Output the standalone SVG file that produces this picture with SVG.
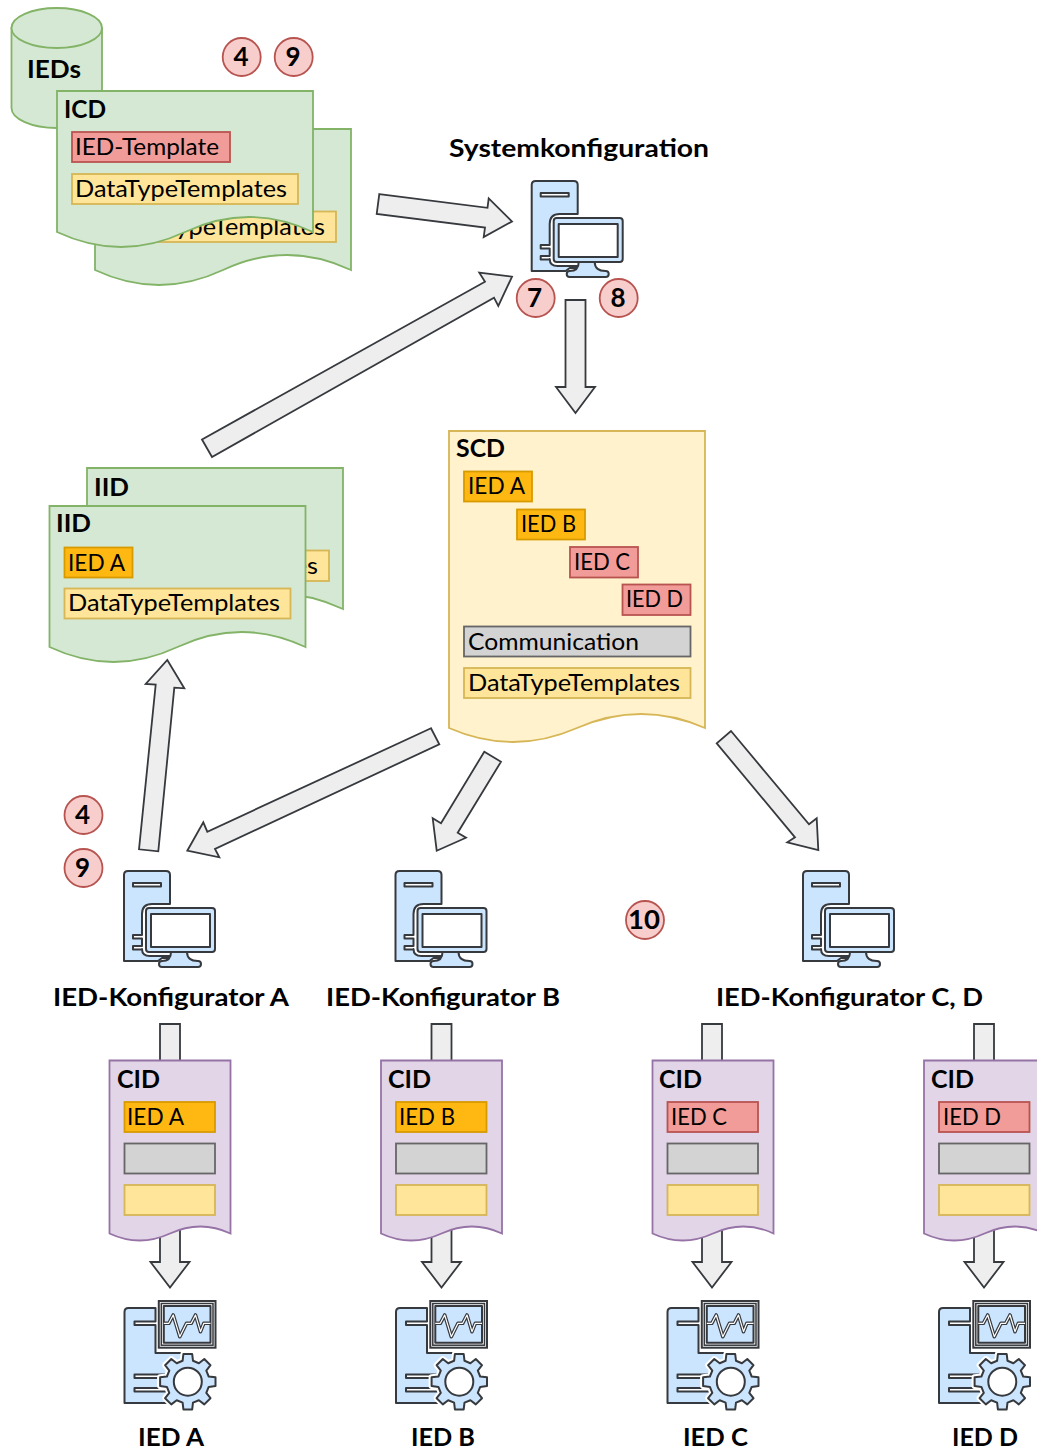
<svg xmlns="http://www.w3.org/2000/svg" xmlns:xlink="http://www.w3.org/1999/xlink" width="1037" height="1447" viewBox="0 0 1037 1447">
<style>
text{font-family:Lato,"Liberation Sans",sans-serif;font-size:24px;fill:#000}
.b{font-weight:700}
.d{font-weight:700;font-size:26px;text-anchor:middle}
.ar{fill:#eeeeee;stroke:#36393d;stroke-width:1.8;stroke-linejoin:miter}
.gn{fill:#d5e8d4;stroke:#82b366;stroke-width:1.8}
.yl{fill:#fff2cc;stroke:#d6b656;stroke-width:1.8}
.pu{fill:#e1d5e7;stroke:#9673a6;stroke-width:1.8}
.by{fill:#ffe599;stroke:#d6b656;stroke-width:1.8}
.bo{fill:#ffb812;stroke:#d79b00;stroke-width:1.8}
.br{fill:#f19c99;stroke:#b85450;stroke-width:1.8}
.bg{fill:#d3d3d3;stroke:#666666;stroke-width:1.8}
.ci{fill:#f8cecc;stroke:#b85450;stroke-width:1.8}
.ic{fill:#cce5ff;stroke:#36393d;stroke-width:2;stroke-linejoin:round}
.wh{fill:#ffffff;stroke:#36393d;stroke-width:2;stroke-linejoin:round}
.ha{fill:#ffffff;stroke:#ffffff;stroke-width:6;stroke-linejoin:round}
</style>
<defs>
<path id="docL" d="M0 0H256V141Q192 111 128 141Q64 171 0 141Z"/>
<path id="docS" d="M0 0H121V173Q91 159 60.500 173Q30 187 0 173Z"/>
<path id="gear" d="M-5.200-20.900L-4.400-27.700L4.400-27.700L5.200-20.900L11.100-18.500L16.500-22.700L22.700-16.500L18.500-11.100L20.900-5.200L27.700-4.400L27.700 4.400L20.900 5.200L18.500 11.100L22.700 16.500L16.500 22.700L11.100 18.500L5.200 20.900L4.400 27.700L-4.400 27.700L-5.200 20.900L-11.100 18.500L-16.500 22.700L-22.700 16.500L-18.500 11.100L-20.900 5.200L-27.700 4.400L-27.700-4.400L-20.900-5.200L-18.500-11.100L-22.700-16.500L-16.500-22.700L-11.100-18.500Z"/>
<g id="pc">
<path class="ic" d="M0 90V4Q0 0 4 0H42Q46 0 46 4V33H28Q18 33 18 43V64H9V67.500H18V75H9V78.500H18V78Q18 85 26 85H46V87H38L34 90Z"/>
<rect class="wh" x="9" y="12" width="28" height="3.500"/>
<path class="ic" d="M47 81Q47 90 38 90Q35 90 35 93Q35 96 38 96H74Q77 96 77 93Q77 90 74 90Q63 90 63 81Z"/>
<rect class="ic" x="22" y="37" width="69" height="44" rx="3"/>
<rect class="wh" x="27" y="43" width="59" height="33"/>
</g>
<g id="dev">
<path class="ic" d="M0 102V11Q0 7 4 7H31V20.500H10V24H31V52H60V102Z"/>
<rect class="wh" x="10" y="73.500" width="32" height="3.500"/>
<rect class="wh" x="10" y="87" width="32" height="3.500"/>
<rect x="34.300" y="0" width="56.700" height="46.700" fill="#ffffff" stroke="#36393d" stroke-width="2"/>
<rect x="36.800" y="2.500" width="51.700" height="41.700" fill="none" stroke="#36393d" stroke-width="1.500"/>
<rect class="ic" x="39.300" y="5" width="46.700" height="36.700"/>
<polyline points="39.300,22.300 44.300,22.300 48.700,14 55.300,35.700 62,22.300 66.700,22.300 71,14 76,30.700 79.300,22.300 86,22.300" fill="none" stroke="#36393d" stroke-width="3.600" stroke-linejoin="round"/>
<polyline points="39.300,22.300 44.300,22.300 48.700,14 55.300,35.700 62,22.300 66.700,22.300 71,14 76,30.700 79.300,22.300 86,22.300" fill="none" stroke="#ffffff" stroke-width="1.200" stroke-linejoin="round"/>
<g transform="translate(63.300 80.700)">
<rect x="-8" y="22" width="30" height="8" fill="#ffffff"/>
<use href="#gear" class="ha"/>
<use href="#gear" class="ic"/>
<circle class="wh" r="14"/>
</g>
</g>
<circle id="circ" class="ci" r="19"/>
</defs>

<g id="connectors">
<polygon class="ar" points="379.300,194.100 487.500,207.800 488.700,198.400 512,221.500 483.700,237 485,227.600 376.700,213.900"/>
<polygon class="ar" points="202,439.500 485,281.700 479.300,272.700 512,276.700 498.300,306 494,297.700 212,457"/>
<polygon class="ar" points="565.500,300 585.500,300 585.500,387 595,387 575.500,413 556,387 565.500,387"/>
<polygon class="ar" points="431,728.300 207.300,831.700 203.300,822.300 187.300,850.700 219.300,857.300 215,849 439.300,744.300"/>
<polygon class="ar" points="484.300,751.700 441,823.300 432.700,818.300 436.700,850.700 466,837.700 457.700,832.700 501,761.700"/>
<polygon class="ar" points="731,731 809,824.300 816.700,818.300 818.300,850 787.300,842.300 795,837.300 716.700,743.300"/>
<polygon class="ar" points="139,849.300 155.700,684.700 145.700,684 167.300,660 184.300,688.300 174.300,687.700 158.300,851.300"/>
<polygon class="ar" points="160,1024 180,1024 180,1262 189.500,1262 170,1287.500 150.500,1262 160,1262"/>
<polygon class="ar" points="431.500,1024 451.500,1024 451.500,1262 461,1262 441.500,1287.500 422,1262 431.500,1262"/>
<polygon class="ar" points="702,1024 722,1024 722,1262 731.500,1262 712,1287.500 692.500,1262 702,1262"/>
<polygon class="ar" points="974,1024 994,1024 994,1262 1003.500,1262 984,1287.500 964.500,1262 974,1262"/>
</g>

<g id="ieds-db">
<path class="gn" d="M11.500 28V108A45.250 20 0 0 0 102 108V28Z"/>
<ellipse class="gn" cx="56.750" cy="28" rx="45.250" ry="20"/>
<text class="b" x="27" y="78" textLength="54" lengthAdjust="spacingAndGlyphs">IEDs</text>
</g>

<g id="icd-back">
<use href="#docL" class="gn" x="95" y="129"/>
<rect class="by" x="109" y="211.500" width="227" height="30.500"/>
<text x="113" y="235" textLength="212" lengthAdjust="spacingAndGlyphs">DataTypeTemplates</text>
</g>
<g id="icd-front">
<use href="#docL" class="gn" x="57" y="91"/>
<text class="b" x="64" y="118" textLength="42" lengthAdjust="spacingAndGlyphs">ICD</text>
<rect class="br" x="72" y="132" width="158" height="30"/>
<text x="75" y="155" textLength="144" lengthAdjust="spacingAndGlyphs">IED-Template</text>
<rect class="by" x="72" y="174" width="226" height="30"/>
<text x="75" y="197" textLength="212" lengthAdjust="spacingAndGlyphs">DataTypeTemplates</text>
</g>

<g id="badge-4-top"><use href="#circ" x="241.700" y="57"/><text class="d" x="241" y="66">4</text></g>
<g id="badge-9-top"><use href="#circ" x="293.700" y="57"/><text class="d" x="293" y="66">9</text></g>
<g id="badge-7"><use href="#circ" x="535.700" y="298"/><text class="d" x="534.500" y="307">7</text></g>
<g id="badge-8"><use href="#circ" x="618.700" y="298"/><text class="d" x="618" y="307">8</text></g>
<g id="badge-4-left"><use href="#circ" x="83.500" y="815"/><text class="d" x="82.500" y="824">4</text></g>
<g id="badge-9-left"><use href="#circ" x="83.500" y="868"/><text class="d" x="82.500" y="877">9</text></g>
<g id="badge-10"><use href="#circ" x="645" y="920"/><text class="d" x="644" y="929" textLength="32" lengthAdjust="spacingAndGlyphs">10</text></g>

<g id="systemkonfiguration">
<text class="b" x="449" y="157" textLength="260" lengthAdjust="spacingAndGlyphs">Systemkonfiguration</text>
<use href="#pc" x="531.700" y="181"/>
</g>

<g id="iid-back">
<use href="#docL" class="gn" x="87" y="468"/>
<text class="b" x="94" y="495.500" textLength="35" lengthAdjust="spacingAndGlyphs">IID</text>
<rect class="by" x="102" y="550.500" width="227" height="30.500"/>
<text x="106" y="574" textLength="212" lengthAdjust="spacingAndGlyphs">DataTypeTemplates</text>
</g>
<g id="iid-front">
<use href="#docL" class="gn" x="49.500" y="506"/>
<text class="b" x="56" y="532" textLength="35" lengthAdjust="spacingAndGlyphs">IID</text>
<rect class="bo" x="64.500" y="547.500" width="68" height="30"/>
<text x="68" y="571" textLength="57" lengthAdjust="spacingAndGlyphs">IED A</text>
<rect class="by" x="64.500" y="588.500" width="226" height="30"/>
<text x="68" y="611" textLength="212" lengthAdjust="spacingAndGlyphs">DataTypeTemplates</text>
</g>

<g id="scd">
<path class="yl" d="M449 431H705V728Q641 700 577 728Q513 756 449 728Z"/>
<text class="b" x="456" y="457" textLength="49" lengthAdjust="spacingAndGlyphs">SCD</text>
<rect class="bo" x="464" y="471.500" width="68" height="30"/>
<text x="468" y="494" textLength="57" lengthAdjust="spacingAndGlyphs">IED A</text>
<rect class="bo" x="517" y="509.500" width="68" height="30"/>
<text x="521" y="532" textLength="55" lengthAdjust="spacingAndGlyphs">IED B</text>
<rect class="br" x="570" y="547" width="68" height="30.500"/>
<text x="574" y="570" textLength="56" lengthAdjust="spacingAndGlyphs">IED C</text>
<rect class="br" x="622.500" y="584.500" width="68" height="30.500"/>
<text x="626" y="607" textLength="57" lengthAdjust="spacingAndGlyphs">IED D</text>
<rect class="bg" x="464" y="626.500" width="226.500" height="30"/>
<text x="468" y="650" textLength="171" lengthAdjust="spacingAndGlyphs">Communication</text>
<rect class="by" x="464" y="668" width="226.500" height="30"/>
<text x="468" y="691" textLength="212" lengthAdjust="spacingAndGlyphs">DataTypeTemplates</text>
</g>

<g id="konfigurator-a"><use href="#pc" x="124" y="871"/><text class="b" x="53" y="1006" textLength="236" lengthAdjust="spacingAndGlyphs">IED-Konfigurator A</text></g>
<g id="konfigurator-b"><use href="#pc" x="395.500" y="871"/><text class="b" x="326" y="1006" textLength="234" lengthAdjust="spacingAndGlyphs">IED-Konfigurator B</text></g>
<g id="konfigurator-cd"><use href="#pc" x="803" y="871"/><text class="b" x="716" y="1006" textLength="267" lengthAdjust="spacingAndGlyphs">IED-Konfigurator C, D</text></g>

<g id="cid-a">
<use href="#docS" class="pu" x="109.500" y="1060.500"/>
<text class="b" x="117" y="1088" textLength="43" lengthAdjust="spacingAndGlyphs">CID</text>
<rect class="bo" x="124.500" y="1102" width="90.500" height="30"/>
<text x="127" y="1125" textLength="57" lengthAdjust="spacingAndGlyphs">IED A</text>
<rect class="bg" x="124.500" y="1143.500" width="90.500" height="30"/>
<rect class="by" x="124.500" y="1185" width="90.500" height="30"/>
</g>
<g id="cid-b">
<use href="#docS" class="pu" x="381" y="1060.500"/>
<text class="b" x="388" y="1088" textLength="43" lengthAdjust="spacingAndGlyphs">CID</text>
<rect class="bo" x="396" y="1102" width="90.500" height="30"/>
<text x="399" y="1125" textLength="56" lengthAdjust="spacingAndGlyphs">IED B</text>
<rect class="bg" x="396" y="1143.500" width="90.500" height="30"/>
<rect class="by" x="396" y="1185" width="90.500" height="30"/>
</g>
<g id="cid-c">
<use href="#docS" class="pu" x="652.500" y="1060.500"/>
<text class="b" x="659" y="1088" textLength="43" lengthAdjust="spacingAndGlyphs">CID</text>
<rect class="br" x="667.500" y="1102" width="90.500" height="30"/>
<text x="671" y="1125" textLength="56" lengthAdjust="spacingAndGlyphs">IED C</text>
<rect class="bg" x="667.500" y="1143.500" width="90.500" height="30"/>
<rect class="by" x="667.500" y="1185" width="90.500" height="30"/>
</g>
<g id="cid-d">
<use href="#docS" class="pu" x="924" y="1060.500"/>
<text class="b" x="931" y="1088" textLength="43" lengthAdjust="spacingAndGlyphs">CID</text>
<rect class="br" x="939" y="1102" width="90.500" height="30"/>
<text x="943" y="1125" textLength="58" lengthAdjust="spacingAndGlyphs">IED D</text>
<rect class="bg" x="939" y="1143.500" width="90.500" height="30"/>
<rect class="by" x="939" y="1185" width="90.500" height="30"/>
</g>

<g id="ied-a"><use href="#dev" x="124.500" y="1301"/><text class="b" x="138" y="1446" textLength="66" lengthAdjust="spacingAndGlyphs">IED A</text></g>
<g id="ied-b"><use href="#dev" x="396" y="1301"/><text class="b" x="411" y="1446" textLength="64" lengthAdjust="spacingAndGlyphs">IED B</text></g>
<g id="ied-c"><use href="#dev" x="667.500" y="1301"/><text class="b" x="683" y="1446" textLength="65" lengthAdjust="spacingAndGlyphs">IED C</text></g>
<g id="ied-d"><use href="#dev" x="939" y="1301"/><text class="b" x="952" y="1446" textLength="66" lengthAdjust="spacingAndGlyphs">IED D</text></g>
</svg>
